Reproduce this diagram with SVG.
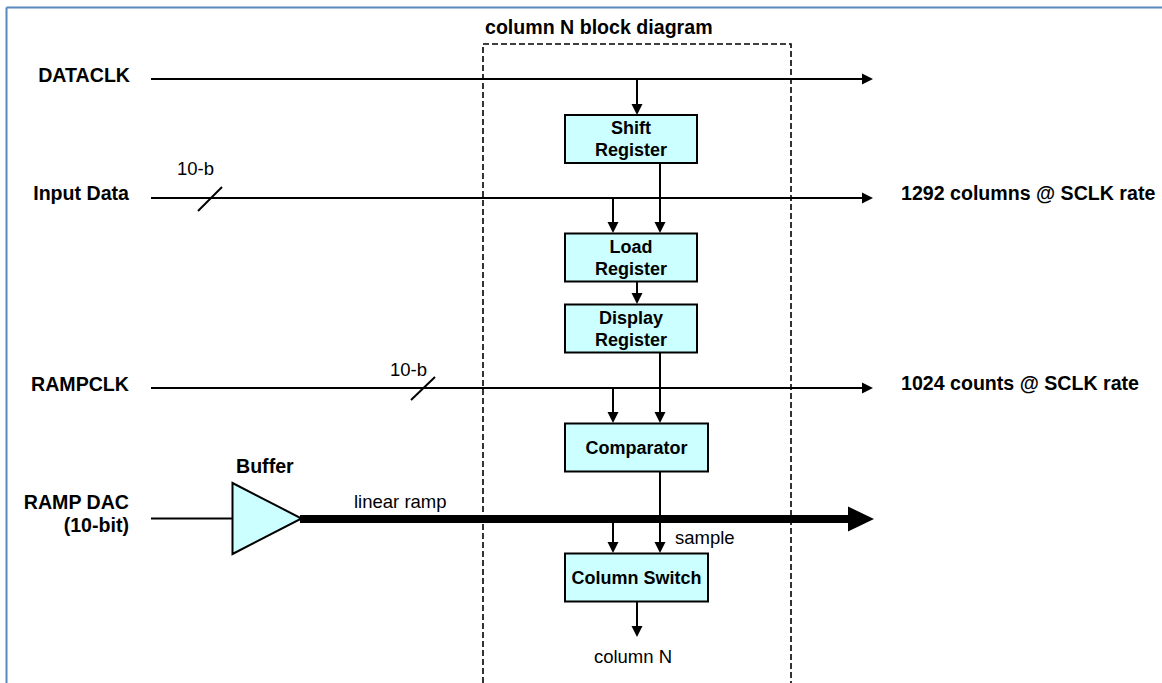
<svg xmlns="http://www.w3.org/2000/svg" width="1162" height="683" viewBox="0 0 1162 683">
<style>
  .lbl { font-family: "Liberation Sans", Arial, sans-serif; font-weight: bold; font-size: 19.6px; fill: #000; }
  .node { font-family: "Liberation Sans", Arial, sans-serif; font-weight: bold; font-size: 18px; fill: #000; text-anchor: middle; }
  .reg { font-family: "Liberation Sans", Arial, sans-serif; font-size: 18.5px; fill: #000; }
  .box { fill: #CCFFFF; stroke: #000; stroke-width: 2; }
  .wire { stroke: #000; stroke-width: 2; fill: none; }
</style>
<defs>
  <marker id="arr" markerUnits="userSpaceOnUse" markerWidth="12" markerHeight="12" refX="0" refY="5.5" orient="auto" overflow="visible">
    <path d="M0,0 L11,5.5 L0,11 z" fill="#000"/>
  </marker>
  <marker id="bigarr" markerUnits="userSpaceOnUse" markerWidth="27" markerHeight="26" refX="0" refY="12.5" orient="auto" overflow="visible">
    <path d="M0,0 L26,12.5 L0,25 z" fill="#000"/>
  </marker>
</defs>
<rect width="1162" height="683" fill="#fff"/>
<g id="frame">
  <line x1="6.5" y1="7.5" x2="1162" y2="7.5" stroke="#5B87C0" stroke-width="2"/>
  <line x1="6.5" y1="7.5" x2="6.5" y2="683" stroke="#5B87C0" stroke-width="2"/>
</g>
<g id="column-box">
  <path d="M483,683 L483,44 L791,44 L791,683" fill="none" stroke="#000" stroke-width="1.6" stroke-dasharray="6,3"/>
  <text class="lbl" x="485" y="34">column N block diagram</text>
</g>
<g id="signal-labels">
  <text class="lbl" x="130" y="82" text-anchor="end">DATACLK</text>
  <text class="lbl" x="129" y="200" text-anchor="end">Input Data</text>
  <text class="lbl" x="129" y="391" text-anchor="end">RAMPCLK</text>
  <text class="lbl" x="129" y="509" text-anchor="end">RAMP DAC</text>
  <text class="lbl" x="129" y="532" text-anchor="end">(10-bit)</text>
  <text class="lbl" x="901" y="200">1292 columns @ SCLK rate</text>
  <text class="lbl" x="901" y="390">1024 counts @ SCLK rate</text>
  <text class="reg" x="177" y="175">10-b</text>
  <text class="reg" x="390" y="376">10-b</text>
  <text class="reg" x="354" y="508">linear ramp</text>
  <text class="reg" x="675" y="544">sample</text>
  <text class="reg" x="633" y="663" text-anchor="middle">column N</text>
</g>
<g id="connectors">
  <line class="wire" x1="151" y1="79" x2="862" y2="79" marker-end="url(#arr)"/>
  <line class="wire" x1="151" y1="198" x2="862" y2="198" marker-end="url(#arr)"/>
  <line class="wire" x1="151" y1="388" x2="862" y2="388" marker-end="url(#arr)"/>
  <line class="wire" x1="198" y1="211" x2="222" y2="187"/>
  <line class="wire" x1="411" y1="400" x2="435" y2="377"/>
  <line class="wire" x1="151" y1="518.5" x2="233" y2="518.5"/>
  <line x1="300" y1="519" x2="848" y2="519" stroke="#000" stroke-width="8" marker-end="url(#bigarr)"/>
  <line class="wire" x1="637" y1="79" x2="637" y2="104" marker-end="url(#arr)"/>
  <line class="wire" x1="660" y1="163" x2="660" y2="222" marker-end="url(#arr)"/>
  <line class="wire" x1="613" y1="198" x2="613" y2="222" marker-end="url(#arr)"/>
  <line class="wire" x1="637" y1="282" x2="637" y2="293" marker-end="url(#arr)"/>
  <line class="wire" x1="660" y1="353" x2="660" y2="412" marker-end="url(#arr)"/>
  <line class="wire" x1="613" y1="388" x2="613" y2="412" marker-end="url(#arr)"/>
  <line class="wire" x1="660" y1="472" x2="660" y2="542" marker-end="url(#arr)"/>
  <line class="wire" x1="613" y1="519" x2="613" y2="542" marker-end="url(#arr)"/>
  <line class="wire" x1="637" y1="602" x2="637" y2="626" marker-end="url(#arr)"/>
</g>
<g id="buffer">
  <path d="M232.5,483 L301.5,518.5 L232.5,554 z" fill="#CCFFFF" stroke="#000" stroke-width="2"/>
  <text class="lbl" x="236" y="473">Buffer</text>
</g>
<g id="shift-register">
  <rect class="box" x="565" y="115" width="132" height="48"/>
  <text class="node" x="631" y="134">Shift</text>
  <text class="node" x="631" y="156">Register</text>
</g>
<g id="load-register">
  <rect class="box" x="565" y="233.5" width="132" height="48"/>
  <text class="node" x="631" y="252.5">Load</text>
  <text class="node" x="631" y="274.5">Register</text>
</g>
<g id="display-register">
  <rect class="box" x="565" y="304.5" width="132" height="48"/>
  <text class="node" x="631" y="323.5">Display</text>
  <text class="node" x="631" y="345.5">Register</text>
</g>
<g id="comparator">
  <rect class="box" x="565" y="423.5" width="143" height="48"/>
  <text class="node" x="636.5" y="453.5">Comparator</text>
</g>
<g id="column-switch">
  <rect class="box" x="565" y="553.5" width="143" height="48"/>
  <text class="node" x="636.5" y="584">Column Switch</text>
</g>
</svg>
